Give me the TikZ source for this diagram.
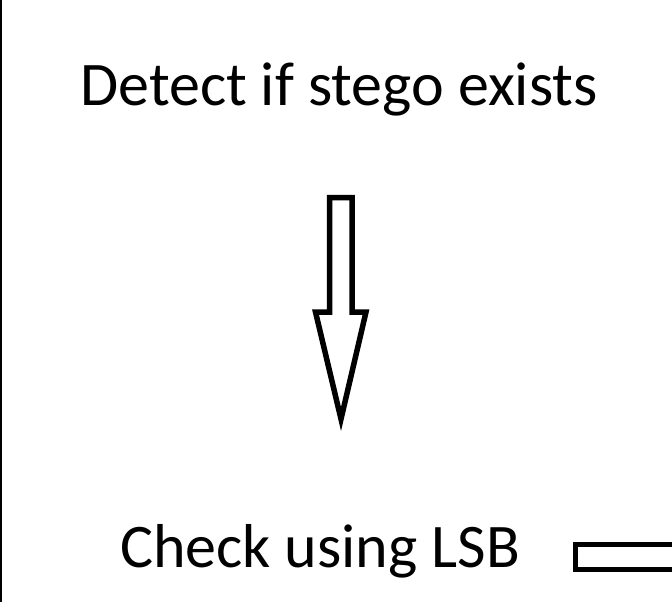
\documentclass[tikz,border=0pt]{standalone}
\usepackage{fontspec}
\setmainfont{Carlito}
\begin{document}
\begin{tikzpicture}[x=1pt,y=-1pt,
  outline/.style={draw=black,line width=5.5pt,miter limit=10,line join=miter},
  label/.style={anchor=base,inner sep=0pt,font=\fontsize{62}{70}\selectfont}]
\useasboundingbox (0,0) rectangle (672,602);
\clip (0,0) rectangle (672,602);
\fill[white] (0,0) rectangle (672,602);
\draw[line width=2.4pt] (1.2,0) -- (1.2,602);
\node[label] (detect) at (339,106) {Detect if stego exists};
\node[label] (check) at (320,567) {Check using LSB};
\draw[outline] (329.5,197.5) -- (352,197.5) -- (352,312) -- (366,312) -- (341,419) -- (315.5,312) -- (329.5,312) -- cycle;
\draw[outline] (690,544.5) -- (575.5,544.5) -- (575.5,569.5) -- (690,569.5);
\end{tikzpicture}
\end{document}
